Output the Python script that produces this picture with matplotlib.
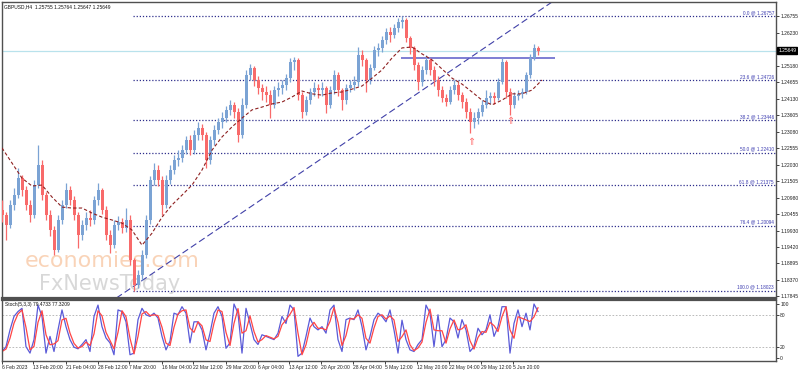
import matplotlib.pyplot as plt
import matplotlib.transforms as mtransforms
import pandas as pd

plt.rcParams["font.family"] = ["Liberation Sans", "DejaVu Sans"]

# GBPUSD H4, each drawn bar covers 4 H4 bars
first_open = 1.2059
closes = [1.2043, 1.2011, 1.2075, 1.2106, 1.2160, 1.2122, 1.2075, 1.2043, 1.2138, 1.2202,
          1.2106, 1.2043, 1.1995, 1.1931, 1.2027, 1.2075, 1.2122, 1.2090, 1.2043, 1.1979,
          1.2011, 1.2033, 1.2027, 1.2090, 1.2122, 1.2059, 1.1979, 1.1947, 1.2011, 1.2020,
          1.2001, 1.2027, 1.1900, 1.1820, 1.1852, 1.1916, 1.2027, 1.2154, 1.2186, 1.2154,
          1.2075, 1.2154, 1.2186, 1.2218, 1.2224, 1.2249, 1.2281, 1.2249, 1.2297, 1.2319,
          1.2297, 1.2218, 1.2281, 1.2313, 1.2338, 1.2351, 1.2377, 1.2393, 1.2370, 1.2297,
          1.2393, 1.2488, 1.2510, 1.2472, 1.2447, 1.2434, 1.2424, 1.2393, 1.2440, 1.2447,
          1.2456, 1.2478, 1.2529, 1.2536, 1.2424, 1.2370, 1.2408, 1.2434, 1.2447, 1.2440,
          1.2447, 1.2393, 1.2440, 1.2488, 1.2440, 1.2408, 1.2447, 1.2456, 1.2466, 1.2552,
          1.2536, 1.2472, 1.2510, 1.2567, 1.2574, 1.2599, 1.2625, 1.2615, 1.2637, 1.2656,
          1.2663, 1.2606, 1.2574, 1.2520, 1.2466, 1.2504, 1.2536, 1.2504, 1.2472, 1.2440,
          1.2415, 1.2402, 1.2440, 1.2456, 1.2424, 1.2402, 1.2370, 1.2338, 1.2351, 1.2370,
          1.2393, 1.2415, 1.2421, 1.2415, 1.2466, 1.2529, 1.2434, 1.2393, 1.2421, 1.2427,
          1.2434, 1.2488, 1.2542, 1.2574, 1.2565]
highs = [1.2090, 1.2052, 1.2090, 1.2129, 1.2192, 1.2170, 1.2135, 1.2090, 1.2154, 1.2265,
         1.2218, 1.2116, 1.2059, 1.2008, 1.2043, 1.2090, 1.2144, 1.2135, 1.2103, 1.2052,
         1.2027, 1.2052, 1.2059, 1.2103, 1.2144, 1.2129, 1.2071, 1.1995, 1.2027, 1.2040,
         1.2033, 1.2065, 1.2043, 1.1906, 1.1868, 1.1931, 1.2043, 1.2167, 1.2208, 1.2202,
         1.2167, 1.2170, 1.2202, 1.2234, 1.2249, 1.2265, 1.2294, 1.2297, 1.2313, 1.2338,
         1.2332, 1.2307, 1.2294, 1.2329, 1.2351, 1.2370, 1.2389, 1.2408, 1.2402, 1.2383,
         1.2415, 1.2504, 1.2523, 1.2517, 1.2485, 1.2459, 1.2453, 1.2440, 1.2453, 1.2466,
         1.2472, 1.2491, 1.2542, 1.2545, 1.2542, 1.2434, 1.2421, 1.2447, 1.2466, 1.2459,
         1.2466, 1.2453, 1.2453, 1.2504, 1.2497, 1.2447, 1.2459, 1.2472, 1.2485, 1.2577,
         1.2567, 1.2542, 1.2523, 1.2580, 1.2590, 1.2612, 1.2637, 1.2641, 1.2650, 1.2669,
         1.2676, 1.2669, 1.2612, 1.2580, 1.2529, 1.2517, 1.2552, 1.2542, 1.2517, 1.2485,
         1.2453, 1.2427, 1.2453, 1.2472, 1.2466, 1.2434, 1.2415, 1.2383, 1.2370, 1.2383,
         1.2408, 1.2440, 1.2434, 1.2434, 1.2478, 1.2542, 1.2536, 1.2447, 1.2434, 1.2440,
         1.2447, 1.2497, 1.2555, 1.2587, 1.2580]
lows = [1.2020, 1.1963, 1.2001, 1.2059, 1.2097, 1.2103, 1.2059, 1.2020, 1.2033, 1.2129,
        1.2090, 1.2027, 1.1976, 1.1916, 1.1925, 1.2014, 1.2065, 1.2075, 1.2027, 1.1938,
        1.1963, 1.1995, 1.2008, 1.2014, 1.2075, 1.2046, 1.1963, 1.1922, 1.1938, 1.1995,
        1.1986, 1.1989, 1.1884, 1.1802, 1.1810, 1.1836, 1.1906, 1.2014, 1.2138, 1.2135,
        1.2043, 1.2065, 1.2141, 1.2173, 1.2199, 1.2211, 1.2237, 1.2234, 1.2237, 1.2281,
        1.2281, 1.2192, 1.2205, 1.2265, 1.2300, 1.2319, 1.2338, 1.2361, 1.2351, 1.2275,
        1.2288, 1.2383, 1.2472, 1.2453, 1.2427, 1.2408, 1.2402, 1.2351, 1.2383, 1.2421,
        1.2427, 1.2440, 1.2466, 1.2504, 1.2408, 1.2351, 1.2361, 1.2396, 1.2421, 1.2415,
        1.2421, 1.2367, 1.2383, 1.2427, 1.2421, 1.2377, 1.2396, 1.2434, 1.2440, 1.2453,
        1.2517, 1.2434, 1.2459, 1.2504, 1.2548, 1.2561, 1.2587, 1.2593, 1.2606, 1.2625,
        1.2637, 1.2593, 1.2555, 1.2504, 1.2440, 1.2453, 1.2491, 1.2488, 1.2453, 1.2421,
        1.2402, 1.2389, 1.2396, 1.2427, 1.2408, 1.2383, 1.2351, 1.2303, 1.2319, 1.2332,
        1.2358, 1.2383, 1.2396, 1.2396, 1.2408, 1.2459, 1.2415, 1.2361, 1.2383, 1.2408,
        1.2415, 1.2427, 1.2478, 1.2536, 1.2552]

# moving average, one point every 10 H4 bars
ma_values = [1.2256, 1.2208, 1.2160, 1.2135, 1.2138, 1.2100, 1.2068, 1.2065, 1.2065, 1.2049,
             1.2036, 1.2027, 1.2017, 1.1995, 1.1947, 1.1985, 1.2036, 1.2075, 1.2106, 1.2138,
             1.2186, 1.2249, 1.2291, 1.2323, 1.2351, 1.2377, 1.2386, 1.2396, 1.2402, 1.2418,
             1.2437, 1.2428, 1.2424, 1.2431, 1.2434, 1.2443, 1.2453, 1.2478, 1.2504, 1.2542,
             1.2574, 1.2577, 1.2555, 1.2536, 1.2507, 1.2478, 1.2459, 1.2434, 1.2408, 1.2393,
             1.2408, 1.2428, 1.2428, 1.2440, 1.2472]

# stochastic %K, same bars as the candles
stoch_main = [12, 21, 52, 77, 86, 92, 21, 9, 34, 98, 77, 9, 40, 12, 52, 89, 58, 34, 20, 17,
              25, 34, 12, 77, 98, 58, 37, 28, 6, 89, 86, 67, 6, 9, 71, 92, 80, 77, 83, 74,
              40, 15, 31, 83, 80, 95, 83, 28, 67, 67, 52, 15, 46, 83, 95, 77, 18, 28, 100, 83,
              9, 92, 64, 34, 25, 43, 40, 37, 34, 46, 77, 64, 98, 89, 3, 9, 40, 74, 58, 52,
              58, 46, 89, 98, 34, 12, 71, 74, 71, 89, 58, 15, 40, 71, 83, 77, 67, 89, 52, 9,
              70, 34, 15, 12, 25, 34, 98, 83, 21, 80, 21, 34, 74, 67, 37, 71, 52, 12, 21, 55,
              43, 52, 80, 40, 58, 95, 95, 9, 64, 89, 58, 83, 52, 100, 86]

fib_levels = [1.26757, 1.24726, 1.23446, 1.22410, 1.21375, 1.20094, 1.18023]
fib_labels = ["0.0 @ 1.26757", "23.6 @ 1.24726", "38.2 @ 1.23446", "50.0 @ 1.22410",
              "61.8 @ 1.21375", "76.4 @ 1.20094", "100.0 @ 1.18023"]
price_ticks = [1.26755, 1.26230, 1.25180, 1.24655, 1.24130, 1.23605, 1.23080, 1.22555,
               1.22030, 1.21505, 1.20980, 1.20455, 1.19930, 1.19420, 1.18895, 1.18370, 1.17845]
last_price = 1.25649
resistance = 1.2542
trend_pts = [(188, 1.1938), (388, 1.2370)]
arrow_pts = [(469, 1.2298), (508, 1.2364)]

date_pos = [0, 31, 64, 96, 127, 160, 191, 224, 256, 287, 319, 351, 383, 415, 447, 479, 511]
date_labels = ["6 Feb 2023", "13 Feb 20:00", "21 Feb 04:00", "28 Feb 12:00", "7 Mar 20:00",
               "16 Mar 04:00", "22 Mar 12:00", "29 Mar 20:00", "6 Apr 04:00", "13 Apr 12:00",
               "20 Apr 20:00", "28 Apr 04:00", "5 May 12:00", "12 May 20:00", "22 May 04:00",
               "29 May 12:00", "5 Jun 20:00"]

BAR_STEP = 4
MA_STEP = 10
UP = "#7ba3d4"
DOWN = "#f86a6a"
FIB = "#2e2e8c"
FRAME = "#505050"
FS = 3.6

opens = [first_open] + closes[:-1]
xs = [BAR_STEP * i for i in range(len(closes))]
colors = [UP if c >= o else DOWN for o, c in zip(opens, closes)]

fig = plt.figure(figsize=(7.98, 3.72), dpi=100)
ax = fig.add_axes([2 / 798, 74 / 372, 774 / 798, 296 / 372])
ax2 = fig.add_axes([2 / 798, 11 / 372, 774 / 798, 61 / 372])

# watermark
ax.text(110, 1.1897, "economies.com", ha="center", va="center", fontsize=16,
        family="DejaVu Sans", color="#f8c9a6", alpha=0.8, zorder=0)
ax.text(108, 1.1823, "FxNewsToday", ha="center", va="center", fontsize=15,
        family="DejaVu Sans", color="#d4d4d4", alpha=0.9, zorder=0)

# fibonacci levels
for lvl, lab in zip(fib_levels, fib_labels):
    ax.hlines(lvl, 131, 774, colors=FIB, linestyles=(0, (1, 1.5)), lw=0.9, zorder=1)
    ax.text(772, lvl + 0.0003, lab, ha="right", va="bottom", fontsize=3.4, color="#3b3bb0")

ax.axhline(last_price, color="#b9e2ec", lw=0.9, zorder=1)
ax.axline(trend_pts[0], trend_pts[1], color="#4040a8", lw=0.8,
          linestyle=(0, (6, 3)), zorder=2)
ax.hlines(resistance, 399, 553, colors="#5b5bc8", lw=1.1, zorder=2)

# candles
bottoms = [min(o, c) for o, c in zip(opens, closes)]
heights = [max(abs(c - o), 0.00008) for o, c in zip(opens, closes)]
ax.vlines(xs, lows, highs, colors=colors, lw=0.9, zorder=3)
ax.bar(xs, heights, bottom=bottoms, width=3.0, color=colors, lw=0, zorder=3)

# moving average
ma_x = [MA_STEP * i for i in range(len(ma_values))]
ax.plot(ma_x, ma_values, color="#8e2020", lw=0.8, linestyle=(0, (3, 2)), zorder=4)

for x, y in arrow_pts:
    ax.text(x, y, r"$\Uparrow$", ha="center", va="top", fontsize=7, color="#ff6a6a",
            zorder=5)

ax.set_xlim(0, 774)
ax.set_ylim(1.1779, 1.2720)
ax.set_xticks([])
ax.yaxis.tick_right()
ax.set_yticks(price_ticks)
ax.set_yticklabels([f"{t:.5f}" for t in price_ticks])
ax.tick_params(axis="y", length=2, width=0.6, pad=1, labelsize=FS, colors="#222222")
for s in ax.spines.values():
    s.set_color(FRAME)
    s.set_linewidth(1.0)
ax.spines["bottom"].set_linewidth(1.6)

tr = mtransforms.blended_transform_factory(ax.transAxes, ax.transData)
ax.text(1.003, last_price, f"{last_price:.5f}", transform=tr, ha="left", va="center",
        fontsize=FS, color="white",
        bbox=dict(boxstyle="square,pad=0.2", fc="black", ec="black"))

fig.text(4 / 798, 1 - 7 / 372, "GBPUSD,H4  1.25755 1.25764 1.25647 1.25649",
         fontsize=3.5, va="center", color="#111111")

# stochastic panel
stoch_signal = pd.Series(stoch_main).rolling(2, min_periods=1).mean()
ax2.axhline(80, color="#b0b0b0", lw=0.6, linestyle=(0, (2, 2)))
ax2.axhline(20, color="#b0b0b0", lw=0.6, linestyle=(0, (2, 2)))
ax2.plot(xs, stoch_main, color="#5a5ad8", lw=0.9)
ax2.plot(xs, stoch_signal, color="#ff4545", lw=0.9)
ax2.text(3, 104, "Stoch(5,3,3) 79.4733 77.3209", fontsize=3.5, va="top", color="#111111")

ax2.set_xlim(0, 774)
ax2.set_ylim(-5.6, 107.4)
ax2.yaxis.tick_right()
ax2.set_yticks([0, 20, 80, 100])
ax2.tick_params(axis="y", length=2, width=0.6, pad=1, labelsize=FS, colors="#222222")
ax2.set_xticks(date_pos)
ax2.set_xticklabels(date_labels, ha="left")
ax2.tick_params(axis="x", length=2, width=0.6, pad=1, labelsize=FS, colors="#222222")
for s in ax2.spines.values():
    s.set_color(FRAME)
    s.set_linewidth(1.0)
ax2.spines["top"].set_linewidth(1.6)

fig.savefig("out.png", dpi=100)
